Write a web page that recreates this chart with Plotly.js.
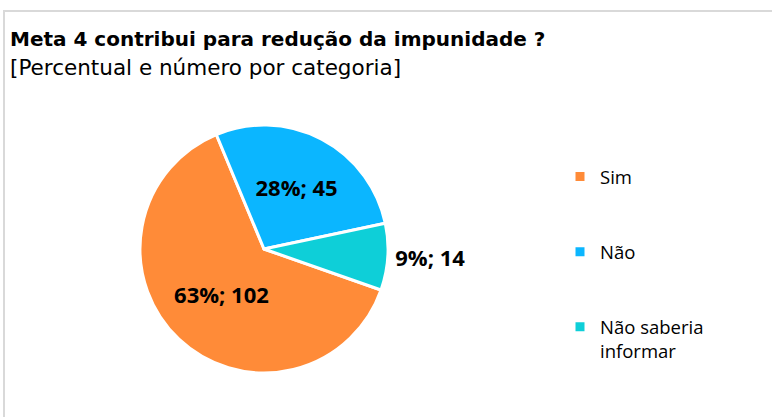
<!DOCTYPE html>
<html>
<head>
<meta charset="utf-8">
<script src="https://cdn.plot.ly/plotly-3.0.1.min.js"></script>
<style>
  html, body { margin: 0; padding: 0; background: #fff; }
  #wrap { position: relative; width: 772px; height: 417px; overflow: hidden; }
  #chart { width: 772px; height: 417px; }
  #frame { position: absolute; left: 3px; top: 10px; width: 900px; height: 600px;
           border: 2px solid #d9d9d9; pointer-events: none; box-sizing: border-box; }
</style>
</head>
<body>
<div id="wrap">
  <div id="chart"></div>
  <div id="frame"></div>
</div>
<script>
const categories = ["Sim", "Não", "Não saberia informar"];
const counts = [102, 45, 14];
const sliceColors = ["#FF8B38", "#0BB6FF", "#0ECFD8"];
const titleText = "Meta 4 contribui para redução da impunidade ?";
const subtitleText = "[Percentual e número por categoria]";

const NB = "\u00a0";
// legend labels: wrap the long one, pad the short ones so rows are spaced like the reference
const legendLabels = categories.map(function (c) {
  if (c === "Não saberia informar") return "Não saberia<br>informar";
  return c + "<br>" + NB + "<br>" + NB;
});

const labelFont = { family: "Open Sans", size: 22, weight: "bold", color: "#000" };

const trace = {
  type: "pie",
  labels: legendLabels,
  values: counts,
  sort: false,
  direction: "clockwise",
  rotation: 109.3,
  marker: { colors: sliceColors, line: { color: "#ffffff", width: 3 } },
  texttemplate: "%{percent:.0%}; %{value}",
  textposition: ["inside", "inside", "outside"],
  insidetextorientation: "horizontal",
  textfont: labelFont,
  insidetextfont: labelFont,
  outsidetextfont: labelFont,
  domain: { x: [140 / 772, 388 / 772], y: [44 / 417, 292 / 417] },
  hoverinfo: "skip"
};

const layout = {
  width: 772,
  height: 417,
  margin: { l: 0, r: 0, t: 0, b: 0 },
  paper_bgcolor: "#fff",
  showlegend: true,
  title: {
    text: "<b>" + titleText + "</b>",
    x: 10 / 772,
    xanchor: "left",
    xref: "paper",
    y: 1 - 32 / 417,
    yanchor: "top",
    yref: "container",
    font: { family: "DejaVu Sans", size: 20, color: "#000" },
    pad: { t: 0, b: 0, l: 0, r: 0 }
  },
  annotations: [{
    text: subtitleText,
    xref: "paper", yref: "paper",
    x: 10 / 772, y: 1 - 55 / 417,
    xanchor: "left", yanchor: "top",
    showarrow: false,
    borderpad: 0, borderwidth: 0,
    font: { family: "DejaVu Sans", size: 21.5, color: "#000" }
  }],
  legend: {
    x: 560 / 772,
    xanchor: "left",
    y: 1 - 158 / 417,
    yanchor: "top",
    valign: "top",
    font: { family: "Open Sans", size: 18.5, color: "#000" },
    bgcolor: "rgba(0,0,0,0)"
  }
};

Plotly.newPlot("chart", [trace], layout, { displayModeBar: false, staticPlot: true });
</script>
</body>
</html>
